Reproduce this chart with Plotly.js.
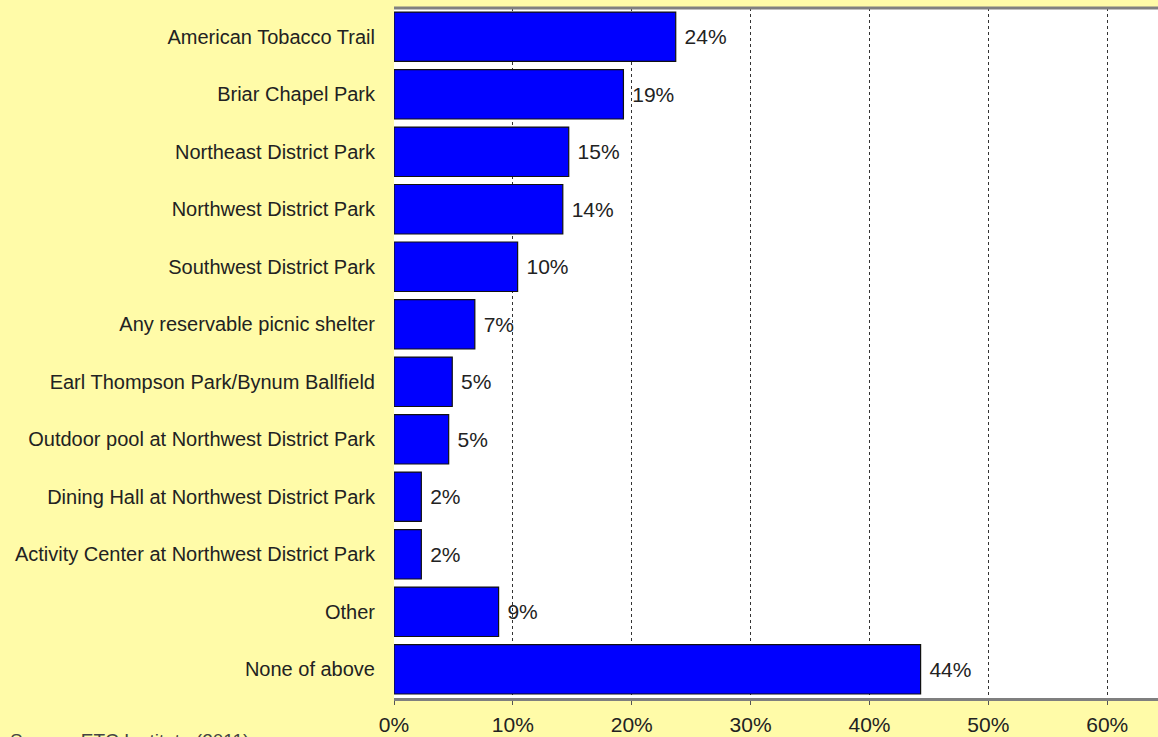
<!DOCTYPE html>
<html>
<head>
<meta charset="utf-8">
<script src="https://cdn.plot.ly/plotly-3.0.1.min.js"></script>
<style>html,body{margin:0;padding:0;background:#FFFBA8;}#chart{width:1158px;height:737px;}</style>
</head>
<body>
<div id="chart"></div>
<script>
const categories = [
  "American Tobacco Trail",
  "Briar Chapel Park",
  "Northeast District Park",
  "Northwest District Park",
  "Southwest District Park",
  "Any reservable picnic shelter",
  "Earl Thompson Park/Bynum Ballfield",
  "Outdoor pool at Northwest District Park",
  "Dining Hall at Northwest District Park",
  "Activity Center at Northwest District Park",
  "Other",
  "None of above"
];
const values = [23.7, 19.3, 14.7, 14.2, 10.4, 6.8, 4.9, 4.6, 2.3, 2.3, 8.8, 44.3];
const valueLabels = ["24%", "19%", "15%", "14%", "10%", "7%", "5%", "5%", "2%", "2%", "9%", "44%"];
const sourceNote = "Source: ETC Institute (2011)";

const font = "Arial, 'Liberation Sans', sans-serif";

const trace = {
  type: "bar",
  orientation: "h",
  y: categories,
  x: values,
  text: valueLabels,
  textposition: "outside",
  texttemplate: "\u00a0%{text}",
  textfont: {family: font, size: 21, color: "#222"},
  cliponaxis: false,
  width: 0.86,
  marker: {color: "#0000FF", line: {color: "#111", width: 1.2}},
  hoverinfo: "skip"
};

const layout = {
  width: 1158,
  height: 737,
  margin: {l: 394, r: 0, t: 8, b: 39},
  paper_bgcolor: "#FFFBA8",
  plot_bgcolor: "#FFFFFF",
  showlegend: false,
  bargap: 0.14,
  xaxis: {
    range: [0, 64.27],
    dtick: 10,
    tick0: 0,
    ticksuffix: "%",
    showgrid: true,
    gridcolor: "#333",
    griddash: "dot",
    gridwidth: 1.2,
    zeroline: false,
    showline: true,
    linecolor: "#7f7f7f",
    linewidth: 2.5,
    ticks: "outside",
    ticklen: 4,
    tickcolor: "#555",
    ticklabelstandoff: 2,
    tickfont: {family: font, size: 21, color: "#222"},
    fixedrange: true
  },
  yaxis: {
    type: "category",
    autorange: "reversed",
    showgrid: false,
    zeroline: false,
    showline: false,
    ticks: "",
    ticklabelstandoff: 18,
    tickfont: {family: font, size: 20, color: "#222"},
    fixedrange: true
  },
  shapes: [
    {type: "line", xref: "paper", yref: "paper", x0: 0, x1: 1, y0: 1, y1: 1,
     line: {color: "#808080", width: 3}}
  ],
  annotations: [
    {text: sourceNote, xref: "paper", yref: "paper", x: 0, y: 0,
     xanchor: "left", yanchor: "top", xshift: -386, yshift: -30,
     showarrow: false, font: {family: font, size: 19, color: "#444"}}
  ]
};

Plotly.newPlot("chart", [trace], layout, {displayModeBar: false, staticPlot: true});
</script>
</body>
</html>
